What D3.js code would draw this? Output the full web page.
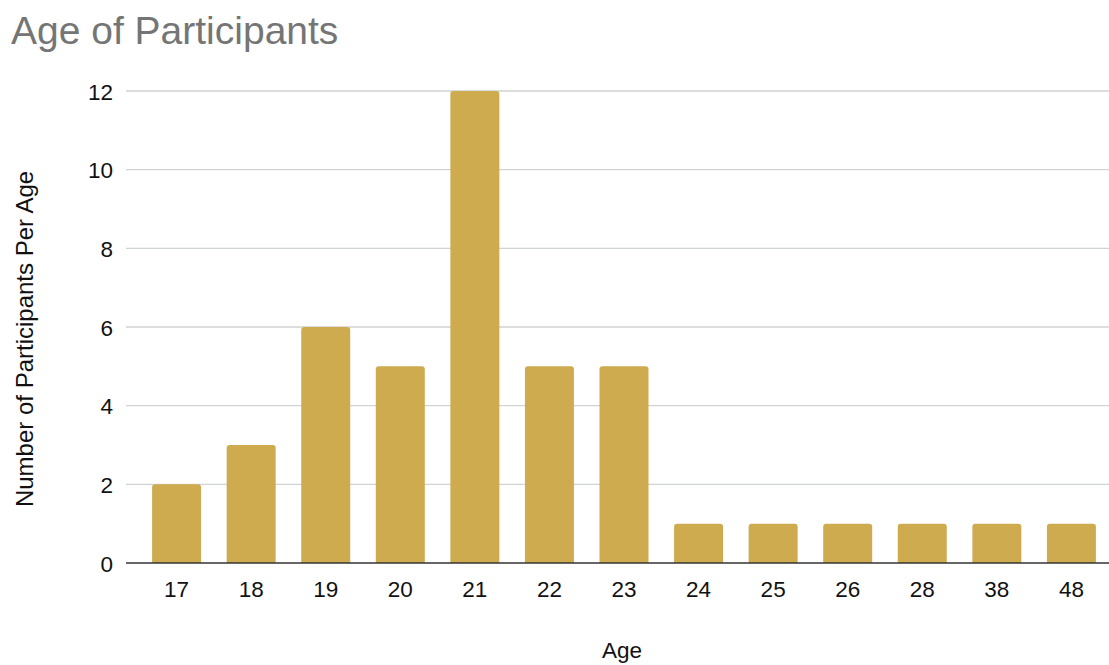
<!DOCTYPE html>
<html>
<head>
<meta charset="utf-8">
<script src="https://cdn.jsdelivr.net/npm/d3@7/dist/d3.min.js"></script>
<style>
  html, body { margin: 0; padding: 0; background: #fff; }
  svg { display: block; font-family: Arial, Helvetica, "Liberation Sans", sans-serif; }
</style>
</head>
<body>
<svg id="chart" width="1109" height="665"></svg>
<script>
const ages = ["17", "18", "19", "20", "21", "22", "23", "24", "25", "26", "28", "38", "48"];
const counts = [2, 3, 6, 5, 12, 5, 5, 1, 1, 1, 1, 1, 1];
const yTicks = [0, 2, 4, 6, 8, 10, 12];
const titleText = "Age of Participants";
const xTitle = "Age";
const yTitle = "Number of Participants Per Age";

(function () {
const FONT = "Arial, Helvetica, 'Liberation Sans', sans-serif";
const svg = d3.select("#chart");
const W = 1109, H = 665;
const pLeft = 126, pRight = 1122, pTop = 91, pBottom = 563;

const x = d3.scaleBand().domain(ages).range([pLeft, pRight]).paddingInner(0.343).paddingOuter(0.35);
const y = d3.scaleLinear().domain([0, 12]).range([pBottom, pTop]);

// title
svg.append("text").attr("x", 11).attr("y", 44).attr("font-size", 39)
  .attr("font-family", FONT).attr("fill", "#757575").text(titleText);

// gridlines
svg.append("g").selectAll("line").data(yTicks.filter(d => d !== 0)).join("line")
  .attr("x1", pLeft).attr("x2", W)
  .attr("y1", d => y(d)).attr("y2", d => y(d))
  .attr("stroke", "#cfd3d2").attr("stroke-width", 1.3);

// y axis labels via axis
const yAxis = d3.axisLeft(y).tickValues(yTicks).tickSize(0).tickPadding(13).tickFormat(d3.format("d"));
const gy = svg.append("g").attr("transform", `translate(${pLeft},0)`).call(yAxis);
gy.select(".domain").remove();
gy.attr("font-family", FONT);
gy.selectAll("text").attr("font-size", 22.5).attr("fill", "#111")
  .attr("font-family", FONT).attr("dy", "0.36em");

// bars with rounded top corners
const r = 3;
svg.append("g").selectAll("path").data(ages).join("path")
  .attr("d", (d, i) => {
    const x0 = x(d), w = x.bandwidth(), yt = y(counts[i]), yb = y(0);
    return `M${x0},${yb}L${x0},${yt + r}Q${x0},${yt} ${x0 + r},${yt}L${x0 + w - r},${yt}Q${x0 + w},${yt} ${x0 + w},${yt + r}L${x0 + w},${yb}Z`;
  })
  .attr("fill", "#ceab4f");

// baseline
svg.append("line").attr("x1", pLeft).attr("x2", W).attr("y1", y(0)).attr("y2", y(0))
  .attr("stroke", "#333").attr("stroke-width", 1.4);

// x axis labels
const xAxis = d3.axisBottom(x).tickSize(0).tickPadding(0);
const gx = svg.append("g").attr("transform", `translate(0,${pBottom})`).call(xAxis);
gx.select(".domain").remove();
gx.attr("font-family", FONT);
gx.selectAll("text").attr("font-size", 22.5).attr("fill", "#111")
  .attr("font-family", FONT).attr("dy", null).attr("y", 34);

// axis titles
svg.append("text").attr("x", (pLeft + pRight) / 2 - 2).attr("y", 658).attr("text-anchor", "middle")
  .attr("font-family", FONT).attr("font-size", 22.5).attr("fill", "#111").text(xTitle);
svg.append("text").attr("transform", "translate(33,339) rotate(-90)").attr("text-anchor", "middle")
  .attr("font-family", FONT).attr("font-size", 24).attr("fill", "#111").text(yTitle);
})();
</script>
</body>
</html>
